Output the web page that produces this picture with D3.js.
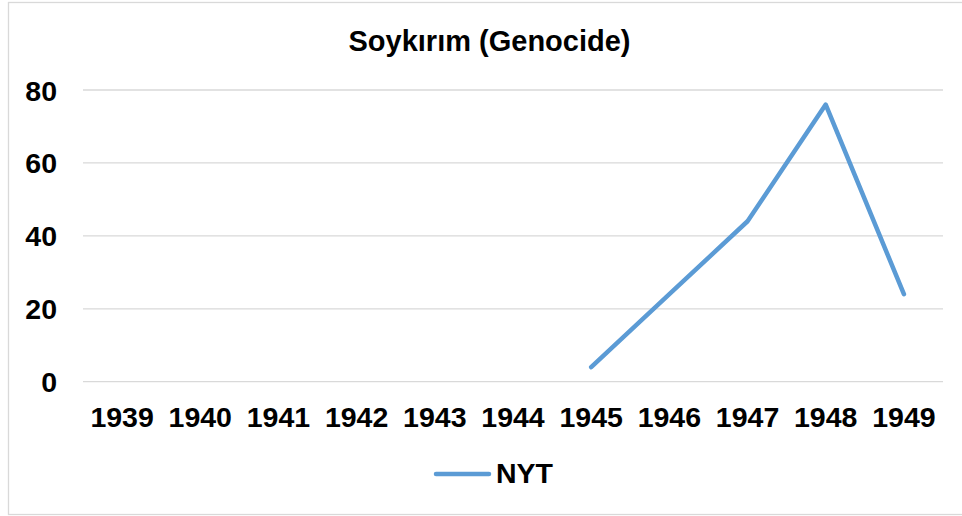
<!DOCTYPE html>
<html>
<head>
<meta charset="utf-8">
<script src="https://cdn.jsdelivr.net/npm/d3@7"></script>
<style>
  html, body { margin: 0; padding: 0; background: #fff; }
  text { font-family: "Liberation Sans", Arial, sans-serif; font-weight: bold; fill: #000; }
</style>
</head>
<body>
<div id="chart"></div>
<script>
// chart data
var years = ['1939', '1940', '1941', '1942', '1943', '1944', '1945', '1946', '1947', '1948', '1949'];
var nyt = [null, null, null, null, null, null, 4, 24, 44, 76, 24];
var yTicks = [0, 20, 40, 60, 80];
var title = 'Soykırım (Genocide)';
var seriesName = 'NYT';

var width = 962, height = 516;
var plot = { left: 83, right: 943, top: 90, bottom: 381.7 };

var svg = d3.select('#chart')
  .append('svg')
  .attr('width', width)
  .attr('height', height);

// outer frame of the chart area
svg.append('rect')
  .attr('x', 8.5)
  .attr('y', 2.5)
  .attr('width', 970)
  .attr('height', 512)
  .attr('fill', 'none')
  .attr('stroke', '#d9d9d9')
  .attr('stroke-width', 1.3);

var x = d3.scaleBand()
  .domain(years)
  .range([plot.left, plot.right]);

var y = d3.scaleLinear()
  .domain([0, 80])
  .range([plot.bottom, plot.top]);

// gridlines
svg.append('g')
  .selectAll('line')
  .data(yTicks)
  .enter()
  .append('line')
  .attr('x1', plot.left)
  .attr('x2', plot.right)
  .attr('y1', function(d) { return y(d); })
  .attr('y2', function(d) { return y(d); })
  .attr('stroke', '#d9d9d9')
  .attr('stroke-width', 1.3);

// y labels
svg.append('g')
  .selectAll('text')
  .data(yTicks)
  .enter()
  .append('text')
  .attr('x', 57)
  .attr('y', function(d) { return y(d) + 10.5; })
  .attr('text-anchor', 'end')
  .style('font-size', '28.5px')
  .text(function(d) { return d; });

// x labels
svg.append('g')
  .selectAll('text')
  .data(years)
  .enter()
  .append('text')
  .attr('x', function(d) { return x(d) + x.bandwidth() / 2; })
  .attr('y', 427)
  .attr('text-anchor', 'middle')
  .style('font-size', '28.5px')
  .text(function(d) { return d; });

// the line
var line = d3.line()
  .defined(function(d) { return d.v != null; })
  .x(function(d) { return x(d.year) + x.bandwidth() / 2; })
  .y(function(d) { return y(d.v); });

var points = years.map(function(yr, i) { return { year: yr, v: nyt[i] }; });

svg.append('path')
  .datum(points)
  .attr('d', line)
  .attr('fill', 'none')
  .attr('stroke', '#5b9bd5')
  .attr('stroke-width', 4.5)
  .attr('stroke-linecap', 'round')
  .attr('stroke-linejoin', 'round');

// title
svg.append('text')
  .attr('x', 489.5)
  .attr('y', 51)
  .attr('text-anchor', 'middle')
  .style('font-size', '29px')
  .text(title);

// legend
svg.append('line')
  .attr('x1', 436)
  .attr('x2', 489)
  .attr('y1', 474)
  .attr('y2', 474)
  .attr('stroke', '#5b9bd5')
  .attr('stroke-width', 4.5)
  .attr('stroke-linecap', 'round');

svg.append('text')
  .attr('x', 496)
  .attr('y', 483)
  .style('font-size', '28.5px')
  .text(seriesName);
</script>
</body>
</html>
